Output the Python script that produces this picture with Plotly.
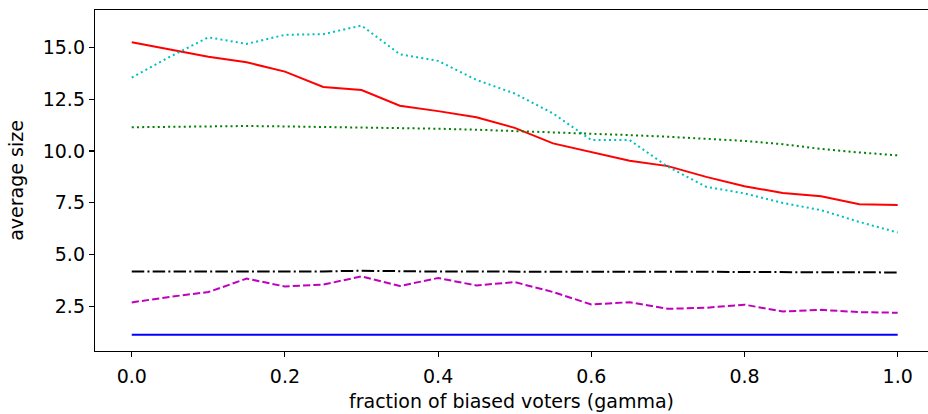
import plotly.graph_objects as go

gamma = [round(i * 0.05, 2) for i in range(21)]

red_solid = [15.26, 14.92, 14.56, 14.29, 13.84, 13.10, 12.95, 12.19, 11.93, 11.63, 11.12,
             10.37, 9.96, 9.53, 9.27, 8.75, 8.30, 7.97, 7.81, 7.43, 7.39]
cyan_dotted = [13.55, 14.56, 15.50, 15.18, 15.62, 15.65, 16.07, 14.68, 14.36, 13.44, 12.78,
               11.82, 10.53, 10.53, 9.24, 8.27, 7.95, 7.49, 7.14, 6.57, 6.06]
green_dotted = [11.15, 11.17, 11.20, 11.21, 11.19, 11.17, 11.15, 11.12, 11.08, 11.03, 10.97,
                10.90, 10.83, 10.77, 10.69, 10.60, 10.49, 10.33, 10.10, 9.93, 9.79]
black_dashdot = [4.17, 4.17, 4.18, 4.18, 4.17, 4.18, 4.21, 4.18, 4.17, 4.17, 4.17,
                 4.17, 4.17, 4.19, 4.17, 4.16, 4.15, 4.14, 4.14, 4.12, 4.13]
magenta_dashed = [2.68, 2.95, 3.18, 3.83, 3.45, 3.54, 3.94, 3.47, 3.86, 3.50, 3.66,
                  3.18, 2.58, 2.69, 2.37, 2.42, 2.57, 2.24, 2.32, 2.21, 2.18]
blue_solid = [1.11, 1.11, 1.12, 1.12, 1.13, 1.12, 1.11, 1.11, 1.11, 1.12, 1.11,
              1.10, 1.11, 1.11, 1.10, 1.11, 1.11, 1.11, 1.11, 1.11, 1.11]

x_ticks = [0.0, 0.2, 0.4, 0.6, 0.8, 1.0]
y_ticks = [2.5, 5.0, 7.5, 10.0, 12.5, 15.0]

series = [
    (red_solid, "#ff0000", "solid"),
    (cyan_dotted, "#00bfbf", "2px,3.2px"),
    (green_dotted, "#008000", "2px,3.2px"),
    (black_dashdot, "#000000", "12.5px,3.2px,2px,3.2px"),
    (magenta_dashed, "#bf00bf", "7.2px,3.1px"),
    (blue_solid, "#0000ff", "solid"),
]

fig = go.Figure()
for ys, color, dash in series:
    fig.add_trace(go.Scatter(x=gamma, y=ys, mode="lines",
                             line=dict(color=color, width=2, dash=dash),
                             showlegend=False, hoverinfo="skip"))

font = dict(family="DejaVu Sans", size=19, color="#000000")
fig.update_layout(
    width=928, height=414,
    margin=dict(l=95, r=0, t=10, b=63),
    plot_bgcolor="white", paper_bgcolor="white",
    font=font,
)
fig.update_xaxes(
    range=[-0.048, 1.0396], tickvals=x_ticks, ticktext=[f"{v:.1f}" for v in x_ticks],
    showgrid=False, zeroline=False, showline=True, linecolor="black", linewidth=1.2,
    mirror=True, ticks="outside", ticklen=5, tickwidth=1.1, tickcolor="black",
    automargin=False, ticklabelstandoff=3,
    title=dict(text="fraction of biased voters (gamma)", font=font, standoff=8),
)
fig.update_yaxes(
    range=[0.33, 16.82], tickvals=y_ticks, ticktext=[f"{v:.1f}" for v in y_ticks],
    showgrid=False, zeroline=False, showline=True, linecolor="black", linewidth=1.2,
    mirror=False, ticks="outside", ticklen=5, tickwidth=1.1, tickcolor="black",
    automargin=False,
    title=dict(text="average size", font=font, standoff=14),
)

fig.write_html(
    "out.html",
    config={"displayModeBar": False, "staticPlot": True},
    post_script="document.body.style.margin='0';document.body.style.overflow='hidden';",
)
